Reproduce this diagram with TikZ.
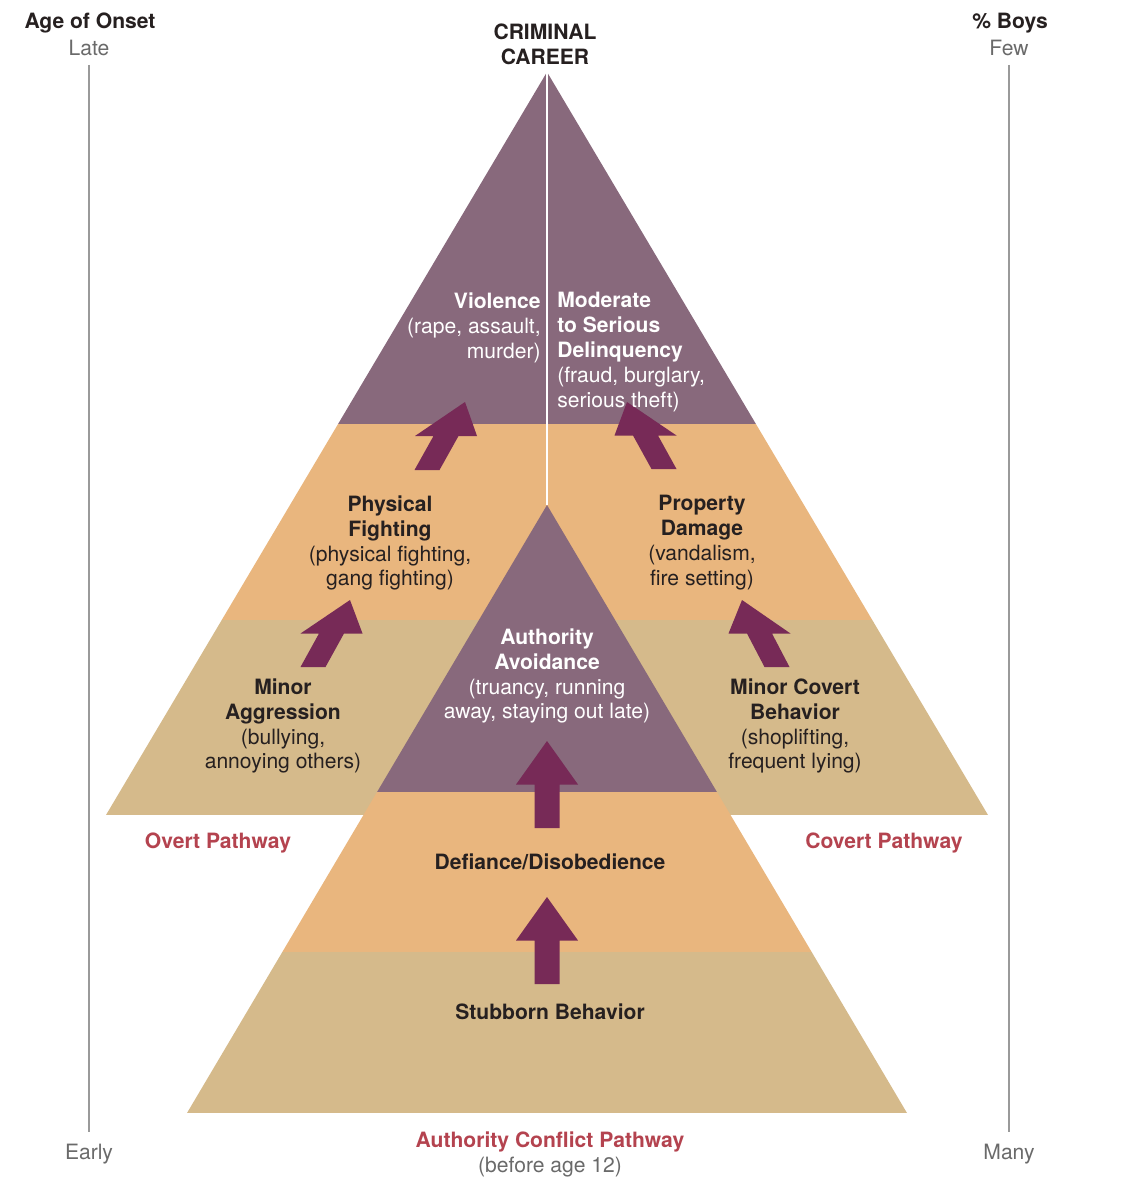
\documentclass[tikz,border=0pt]{standalone}
\usepackage{fontspec}
\setmainfont{TeX Gyre Heros}
\usepackage{tikz}
\usetikzlibrary{calc}

\definecolor{mauve}{HTML}{88697C}
\definecolor{peach}{HTML}{E9B67E}
\definecolor{sand}{HTML}{D5BA8B}
\definecolor{plum}{HTML}{772A57}
\definecolor{pathred}{HTML}{B4434F}
\definecolor{ink}{HTML}{262020}
\definecolor{axisgray}{HTML}{9A9A9A}
\definecolor{labelgray}{HTML}{6A6A6A}

% block arrow: tail, tip (head and tail cut level)
\newcommand{\pwarrow}[2]{%
  \fill[plum] ($(#1)+(-12.5,0)$) -- ($(#1)!0.5!(#2)+(-12.5,0)$)
    -- ($(#1)!0.5!(#2)+(-31,0)$) -- (#2)
    -- ($(#1)!0.5!(#2)+(31,0)$) -- ($(#1)!0.5!(#2)+(12.5,0)$)
    -- ($(#1)+(12.5,0)$) -- cycle;}

\begin{document}
\begin{tikzpicture}
[x=0.02cm,y=-0.02cm,%
  every node/.style={inner sep=0pt,align=center,text=ink},%
  head/.style={font=\bfseries},%
  onmauve/.style={text=white},%
  pathlabel/.style={font=\bfseries,text=pathred},%
  axislabel/.style={text=labelgray},%
  axis/.style={draw=axisgray,line width=1.1pt,shorten <=5pt,shorten >=6.5pt}]
\fontsize{12}{14.2}\selectfont
\useasboundingbox (0,0) rectangle (1142,1200);

% outer pyramid
\coordinate (apex) at (547,72);
\coordinate (outerl) at (106,815);
\coordinate (outerr) at (988,815);
\begin{scope}
  \clip (apex) -- (outerl) -- (outerr) -- cycle;
  \fill[mauve] (0,60) rectangle (1142,424);
  \fill[peach] (0,424) rectangle (1142,620);
  \fill[sand] (0,620) rectangle (1142,815);
\end{scope}
\coordinate (inapex) at (547,505);
\draw[white,line width=1.5pt] (apex) -- (inapex);

% inner pyramid
\coordinate (innerl) at (187,1113);
\coordinate (innerr) at (907,1113);
\begin{scope}
  \clip (inapex) -- (innerl) -- (innerr) -- cycle;
  \fill[mauve] (0,500) rectangle (1142,792);
  \fill[peach] (0,792) rectangle (1142,952);
  \fill[sand] (0,952) rectangle (1142,1113);
\end{scope}

% arrows
\coordinate (ov1t) at (313,667); \coordinate (ov1h) at (350,600);
\coordinate (ov2t) at (427,470); \coordinate (ov2h) at (465,402);
\coordinate (cv1t) at (777,667); \coordinate (cv1h) at (742,600);
\coordinate (cv2t) at (664,469); \coordinate (cv2h) at (627,402);
\coordinate (ac1t) at (547,984); \coordinate (ac1h) at (547,897);
\coordinate (ac2t) at (547,828); \coordinate (ac2h) at (547,741);
\pwarrow{ov1t}{ov1h}
\pwarrow{ov2t}{ov2h}
\pwarrow{cv1t}{cv1h}
\pwarrow{cv2t}{cv2h}
\pwarrow{ac1t}{ac1h}
\pwarrow{ac2t}{ac2h}

% axes
\node (age) at (90,23) [head] {Age of Onset};
\node (late) at (89,48) [axislabel] {Late};
\node (early) at (89,1154) [axislabel] {Early};
\node (boys) at (1010,23) [head] {\% Boys};
\node (few) at (1009,48) [axislabel] {Few};
\node (many) at (1009,1154) [axislabel] {Many};
\draw[axis] (late) -- (early);
\draw[axis] (few) -- (many);

% labels
\node (career) at (545,44) [head] {CRIMINAL\\CAREER};
\node (violence) at (541,328) [anchor=east,align=right,onmauve]
  {\textbf{Violence}\\(rape, assault,\\murder)};
\node (moderate) at (557,352) [anchor=west,align=left,onmauve]
  {\textbf{Moderate}\\\textbf{to Serious}\\\textbf{Delinquency}\\(fraud, burglary,\\serious theft)};
\node (fighting) at (390,543)
  {\textbf{Physical}\\\textbf{Fighting}\\(physical fighting,\\gang fighting)};
\node (damage) at (702,543)
  {\textbf{Property}\\\textbf{Damage}\\(vandalism,\\fire setting)};
\node (avoidance) at (547,676) [onmauve]
  {\textbf{Authority}\\\textbf{Avoidance}\\(truancy, running\\away, staying out late)};
\node (aggression) at (283,726)
  {\textbf{Minor}\\\textbf{Aggression}\\(bullying,\\annoying others)};
\node (minorcovert) at (795,726)
  {\textbf{Minor Covert}\\\textbf{Behavior}\\(shoplifting,\\frequent lying)};
\node (overt) at (218,843) [pathlabel] {Overt Pathway};
\node (covert) at (884,843) [pathlabel] {Covert Pathway};
\node (defiance) at (550,862) [head] {Defiance/Disobedience};
\node (stubborn) at (550,1012) [head] {Stubborn Behavior};
\node (conflict) at (550,1154)
  {\textcolor{pathred}{\textbf{Authority Conflict Pathway}}\\\textcolor{labelgray}{(before age 12)}};
\end{tikzpicture}
\end{document}
